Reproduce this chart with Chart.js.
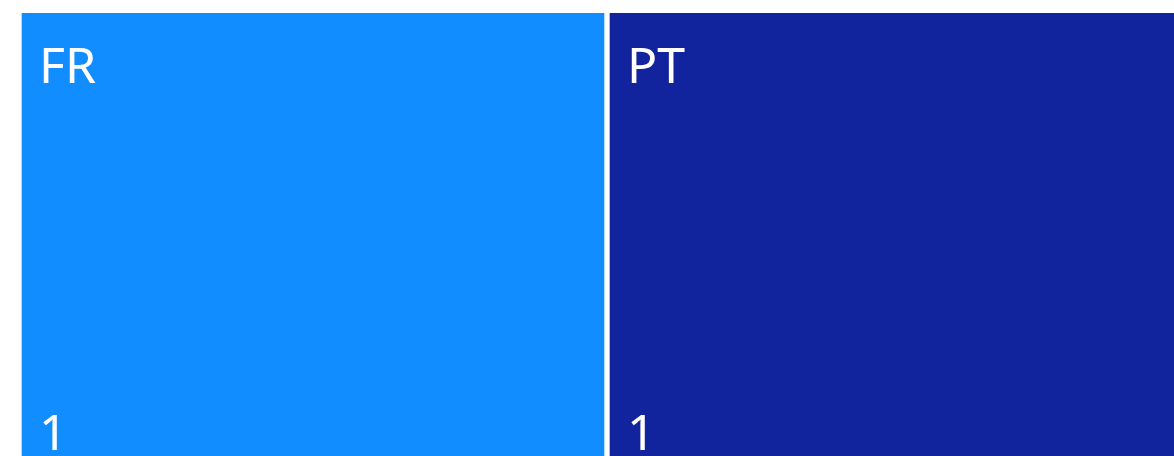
<!DOCTYPE html>
<html>
<head>
<meta charset="utf-8">
<script src="https://cdn.jsdelivr.net/npm/chart.js@4.4.1/dist/chart.umd.min.js"></script>
<style>
  html, body { margin: 0; padding: 0; background: #ffffff; overflow: hidden; }
  #wrap { position: absolute; left: 0; top: 0; width: 1200px; height: 480px; }
</style>
</head>
<body>
<div id="wrap"><canvas id="c"></canvas></div>
<script>
const categories = ['FR', 'PT'];
const values = [1, 1];
const colors = ['#118DFF', '#12239E'];

const labelPlugin = {
  id: 'tileLabels',
  afterDatasetsDraw(chart) {
    const ctx = chart.ctx;
    ctx.save();
    ctx.fillStyle = '#ffffff';
    ctx.font = '50px "Noto Sans", "Open Sans", sans-serif';
    ctx.textAlign = 'left';
    ctx.textBaseline = 'alphabetic';
    chart.data.datasets.forEach((ds, i) => {
      const el = chart.getDatasetMeta(i).data[0];
      if (!el) return;
      const p = el.getProps(['x', 'y', 'base', 'height'], true);
      const left = Math.min(p.base, p.x) + 3;
      const top = p.y - p.height / 2;
      const bottom = p.y + p.height / 2;
      ctx.fillText(ds.label, left + 17, top + 70);
      ctx.fillText(String(ds.data[0]), left + 17, bottom - 16);
    });
    ctx.restore();
  }
};

new Chart(document.getElementById('c'), {
  type: 'bar',
  data: {
    labels: ['all'],
    datasets: categories.map((c, i) => ({
      label: c,
      data: [values[i]],
      backgroundColor: colors[i],
      borderColor: '#ffffff',
      borderWidth: { left: 3, right: 3, top: 0, bottom: 0 },
      borderSkipped: false,
      barPercentage: 1,
      categoryPercentage: 1
    }))
  },
  options: {
    indexAxis: 'y',
    responsive: true,
    maintainAspectRatio: false,
    animation: false,
    layout: { padding: { left: 19, right: 5, top: 13, bottom: 14 } },
    plugins: { legend: { display: false }, tooltip: { enabled: false } },
    scales: {
      x: { stacked: true, min: 0, max: 2, display: false },
      y: { stacked: true, display: false }
    }
  },
  plugins: [labelPlugin]
});
</script>
</body>
</html>
